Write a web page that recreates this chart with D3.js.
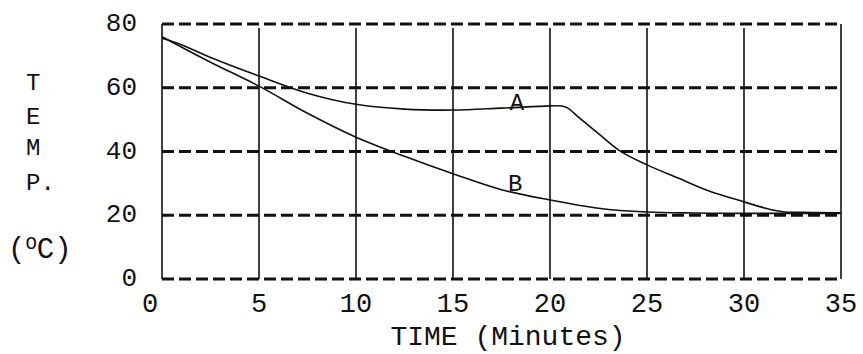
<!DOCTYPE html>
<html>
<head>
<meta charset="utf-8">
<script src="https://cdn.jsdelivr.net/npm/d3@7"></script>
<style>
  html, body { margin: 0; padding: 0; background: #fff; }
  svg { display: block; }
  text { font-family: "Liberation Mono", "Courier New", monospace; fill: #111; }
</style>
</head>
<body>
<svg id="chart" width="863" height="354"></svg>
<script>
// ---- data ----
const xTicks = [0, 5, 10, 15, 20, 25, 30, 35];
const yTicks = [0, 20, 40, 60, 80];
const curveAx = [0, 1, 2.5, 5, 7.5, 10, 12.5, 15, 17.5, 20, 20.6, 20.9, 21.5, 22.5, 23.6, 25, 26.6, 28.2, 30, 31, 32, 33, 35];
const curveAy = [75.5, 73.5, 69.5, 63.7, 58.3, 54.8, 53.3, 53, 53.6, 54.3, 54.3, 53.7, 50.6, 45.6, 40.2, 35.8, 31.7, 27.6, 24.2, 22.4, 21.1, 20.9, 20.8];
const curveBx = [0, 2.5, 5, 7.5, 10, 12.5, 15, 17.5, 20, 22.5, 25, 27.5, 30, 35];
const curveBy = [76, 68, 60.5, 52, 44.5, 38.5, 33, 28, 24.8, 22.2, 21, 20.7, 20.6, 20.6];
const seriesLabels = [{name: "A", x: 18.3, y: 55}, {name: "B", x: 18.2, y: 29.5}];
const xTitle = "TIME (Minutes)";
const yTitleLetters = ["T", "E", "M", "P."];

// ---- chart ----
const svg = d3.select("#chart");
const x = d3.scaleLinear().domain([0, 35]).range([162, 841]);
const y = d3.scaleLinear().domain([0, 80]).range([279, 24]);

// vertical solid grid lines
svg.append("g").selectAll("line").data(xTicks).join("line")
  .attr("x1", d => x(d)).attr("x2", d => x(d))
  .attr("y1", d => (d === 0 || d === 35) ? y(80) : y(80) + 4)
  .attr("y2", y(0))
  .attr("stroke", "#111").attr("stroke-width", 1.6);

// horizontal dashed grid lines
svg.append("g").selectAll("line").data(yTicks).join("line")
  .attr("x1", x(0)).attr("x2", x(35))
  .attr("y1", d => y(d)).attr("y2", d => y(d))
  .attr("stroke", "#111").attr("stroke-width", 3)
  .attr("stroke-dasharray", "12,5");

// x tick labels
svg.append("g").selectAll("text").data(xTicks).join("text")
  .attr("x", d => x(d) - (d === 0 ? 12 : 0))
  .attr("y", 305)
  .attr("text-anchor", "middle")
  .attr("dominant-baseline", "central")
  .style("font-size", "27px")
  .text(d => d);

// y tick labels
svg.append("g").selectAll("text").data(yTicks).join("text")
  .attr("x", 137)
  .attr("y", d => y(d))
  .attr("text-anchor", "end")
  .attr("dominant-baseline", "central")
  .style("font-size", "26px")
  .text(d => d);

// curves
const line = d3.line().x(d => x(d[0])).y(d => y(d[1])).curve(d3.curveCatmullRom.alpha(0.5));
const dataA = curveAx.map((v, i) => [v, curveAy[i]]);
const dataB = curveBx.map((v, i) => [v, curveBy[i]]);
[dataA, dataB].forEach(dat => {
  svg.append("path").datum(dat).attr("d", line)
    .attr("fill", "none").attr("stroke", "#111").attr("stroke-width", 1.6);
});

// series labels
svg.append("g").selectAll("text").data(seriesLabels).join("text")
  .attr("x", d => x(d.x))
  .attr("y", d => y(d.y))
  .attr("text-anchor", "middle")
  .attr("dominant-baseline", "central")
  .style("font-size", "24px")
  .text(d => d.name);

// x axis title
svg.append("text")
  .attr("x", 508).attr("y", 337)
  .attr("text-anchor", "middle")
  .attr("dominant-baseline", "central")
  .style("font-size", "28px")
  .text(xTitle);

// y axis title (stacked letters)
const yLetterPos = [83, 117, 148, 183];
svg.append("g").selectAll("text").data(yTitleLetters).join("text")
  .attr("x", 26)
  .attr("y", (d, i) => yLetterPos[i])
  .attr("dominant-baseline", "central")
  .style("font-size", "24px")
  .text(d => d);

const unit = svg.append("text")
  .attr("x", 8).attr("y", 258)
  .style("font-size", "29px");
unit.append("tspan").text("(");
unit.append("tspan").attr("dy", -9).style("font-size", "19px").text("O");
unit.append("tspan").attr("dy", 9).text("C)");
</script>
</body>
</html>
